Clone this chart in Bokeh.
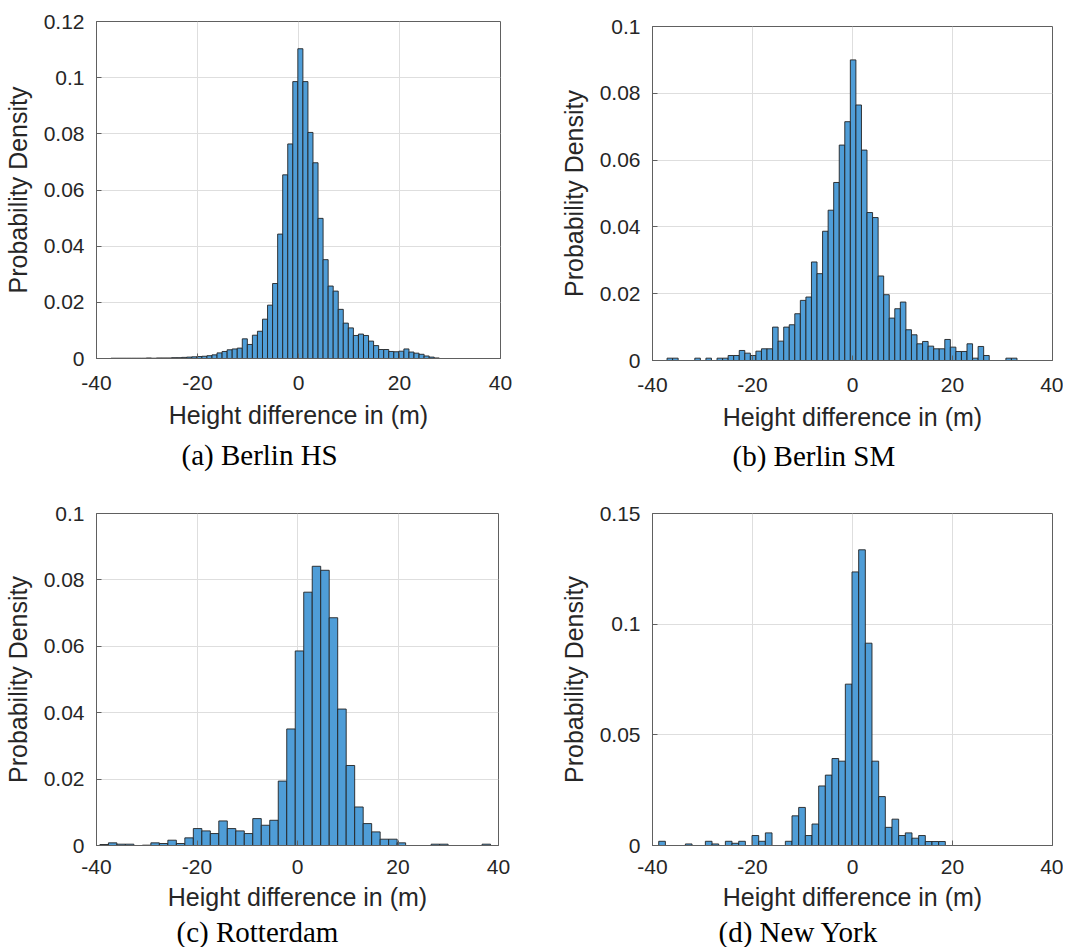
from bokeh.plotting import figure
from bokeh.models import Range1d, FixedTicker, Title, CustomJSTickFormatter, ColumnDataSource
from bokeh.layouts import column, row
from bokeh.embed import file_html
from bokeh.resources import INLINE

# ---------------- data ----------------
x_ticks = [-40, -20, 0, 20, 40]
x_label = "Height difference in (m)"
y_label = "Probability Density"

# (a) Berlin HS
a_caption = "(a) Berlin HS"
a_bin_start = -37.13
a_bin_width = 1.0
a_density = [0.0001, 0.0001, 0.0001, 0.0001, 0.0001, 0.0001, 0.0001, 0.0002, 0.0001, 0.0002,
             0.0002, 0.0002, 0.0003, 0.0003, 0.0004, 0.0005, 0.0006, 0.0007, 0.0008, 0.0010,
             0.0013, 0.0020, 0.0025, 0.0031, 0.0034, 0.0037, 0.0070, 0.0050, 0.0083, 0.0097,
             0.0140, 0.0190, 0.0267, 0.0443, 0.0654, 0.0764, 0.0986, 0.1103, 0.0986, 0.0805,
             0.0697, 0.0499, 0.0352, 0.0258, 0.0240, 0.0175, 0.0126, 0.0109, 0.0082, 0.0087,
             0.0082, 0.0062, 0.0046, 0.0032, 0.0032, 0.0025, 0.0024, 0.0026, 0.0034, 0.0023,
             0.0019, 0.0015, 0.0009, 0.0005, 0.0002]
a_y_max = 0.12
a_y_ticks = [0, 0.02, 0.04, 0.06, 0.08, 0.1, 0.12]

# (b) Berlin SM
b_caption = "(b) Berlin SM"
b_bin_start = -37.093
b_bin_width = 1.111
b_density = [0.0007, 0.0007, 0.0, 0.0, 0.0, 0.0007, 0.0, 0.0007, 0.0, 0.0007,
             0.0007, 0.0015, 0.0015, 0.0030, 0.0022, 0.0015, 0.0028, 0.0035, 0.0035, 0.0100,
             0.0058, 0.0100, 0.0107, 0.0140, 0.0180, 0.0190, 0.0295, 0.0260, 0.0387, 0.0450,
             0.0533, 0.0645, 0.0715, 0.0900, 0.0765, 0.0630, 0.0443, 0.0428, 0.0253, 0.0197,
             0.0127, 0.0155, 0.0175, 0.0092, 0.0077, 0.0050, 0.0057, 0.0043, 0.0035, 0.0035,
             0.0063, 0.0040, 0.0027, 0.0027, 0.0050, 0.0007, 0.0042, 0.0015, 0.0, 0.0,
             0.0, 0.0007, 0.0007]
b_y_max = 0.1
b_y_ticks = [0, 0.02, 0.04, 0.06, 0.08, 0.1]

# (c) Rotterdam
c_caption = "(c) Rotterdam"
c_bin_start = -39.32
c_bin_width = 1.69
c_density = [0.0003, 0.0008, 0.0004, 0.0004, 0.0, 0.0001, 0.0008, 0.0006, 0.0016, 0.0006,
             0.0023, 0.0051, 0.0044, 0.0036, 0.0074, 0.0051, 0.0044, 0.0036, 0.0081, 0.0061,
             0.0076, 0.0194, 0.0351, 0.0586, 0.0763, 0.0841, 0.0829, 0.0686, 0.0411, 0.0241,
             0.0116, 0.0066, 0.0041, 0.0019, 0.0019, 0.0008, 0.0, 0.0, 0.0, 0.0004,
             0.0004, 0.0, 0.0, 0.0, 0.0, 0.0004]
c_y_max = 0.1
c_y_ticks = [0, 0.02, 0.04, 0.06, 0.08, 0.1]

# (d) New York
d_caption = "(d) New York"
d_bin_start = -38.757
d_bin_width = 1.333
d_density = [0.0019, 0.0, 0.0, 0.0, 0.0007, 0.0, 0.0, 0.0019, 0.0007, 0.0,
             0.0019, 0.0010, 0.0019, 0.0, 0.0045, 0.0019, 0.0057, 0.0, 0.0, 0.0019,
             0.0134, 0.0172, 0.0045, 0.0097, 0.0269, 0.0318, 0.0393, 0.0381, 0.0729, 0.1236,
             0.1336, 0.0914, 0.0381, 0.0221, 0.0082, 0.0119, 0.0045, 0.0057, 0.0033, 0.0045,
             0.0018, 0.0018, 0.0018]
d_y_max = 0.15
d_y_ticks = [0, 0.05, 0.1, 0.15]

# ---------------- style ----------------
FILL = "#4F9DD7"
EDGE = "#222222"
AXIS = "#606060"
TEXT = "#262626"
GRID = "#dedede"
SANS = "Liberation Sans"
SERIF = "Liberation Serif"


def panel(start, bw, dens, y_max, y_ticks, caption, cap_offset, cap_standoff,
          tick_standoff, label_standoff, fw, fh, bl, br, bt, bb):
    left = [start + i * bw for i in range(len(dens))]
    right = [v + bw for v in left]
    src = ColumnDataSource(dict(left=left, right=right, top=dens))
    p = figure(frame_width=fw, frame_height=fh,
               x_range=Range1d(-40, 40), y_range=Range1d(0, y_max),
               output_backend="svg", toolbar_location=None,
               min_border_left=bl, min_border_right=br,
               min_border_top=bt, min_border_bottom=bb,
               background_fill_color="white", border_fill_color="white",
               outline_line_color=AXIS, outline_line_width=1)
    p.quad(left="left", right="right", top="top", bottom=0, source=src,
           fill_color=FILL, line_color=EDGE, line_width=0.9)

    fmt = CustomJSTickFormatter(code="return String(Math.round(tick * 10000) / 10000);")
    p.xaxis.ticker = FixedTicker(ticks=x_ticks)
    p.yaxis.ticker = FixedTicker(ticks=y_ticks)
    p.xaxis.formatter = fmt
    p.yaxis.formatter = fmt
    p.xaxis.axis_label = x_label
    p.yaxis.axis_label = y_label
    for ax in list(p.xaxis) + list(p.yaxis):
        ax.major_tick_in = 5
        ax.major_tick_out = 0
        ax.minor_tick_in = 0
        ax.minor_tick_out = 0
        ax.axis_line_color = AXIS
        ax.major_tick_line_color = AXIS
        ax.major_label_text_font = SANS
        ax.major_label_text_font_size = "21px"
        ax.major_label_text_color = TEXT
        ax.axis_label_text_font = SANS
        ax.axis_label_text_font_size = "25px"
        ax.axis_label_text_font_style = "normal"
        ax.axis_label_text_color = TEXT
    p.xaxis.major_label_standoff = tick_standoff
    p.xaxis.axis_label_standoff = label_standoff
    p.yaxis.major_label_standoff = 12
    p.yaxis.axis_label_standoff = 9

    p.xgrid.grid_line_color = GRID
    p.ygrid.grid_line_color = GRID

    p.add_layout(Title(text=caption, align="left", offset=cap_offset, standoff=cap_standoff,
                       text_font=SERIF, text_font_size="29px", text_font_style="normal",
                       text_color="black"), "below")
    return p


pa = panel(a_bin_start, a_bin_width, a_density, a_y_max, a_y_ticks, a_caption, 85, 10, 17, 8,
           404, 337, 90, 47, 21, 140)
pb = panel(b_bin_start, b_bin_width, b_density, b_y_max, b_y_ticks, b_caption, 80, 9, 17, 8,
           400, 334, 105, 11, 26, 138)
pc = panel(c_bin_start, c_bin_width, c_density, c_y_max, c_y_ticks, c_caption, 80, 0, 14, 6,
           402, 332, 91, 48, 15, 100)
pd = panel(d_bin_start, d_bin_width, d_density, d_y_max, d_y_ticks, d_caption, 66, 0, 14, 6,
           400, 332, 105, 11, 15, 100)

layout = row(column(pa, pc), column(pb, pd))
open("out.html", "w").write(file_html(layout, INLINE))
